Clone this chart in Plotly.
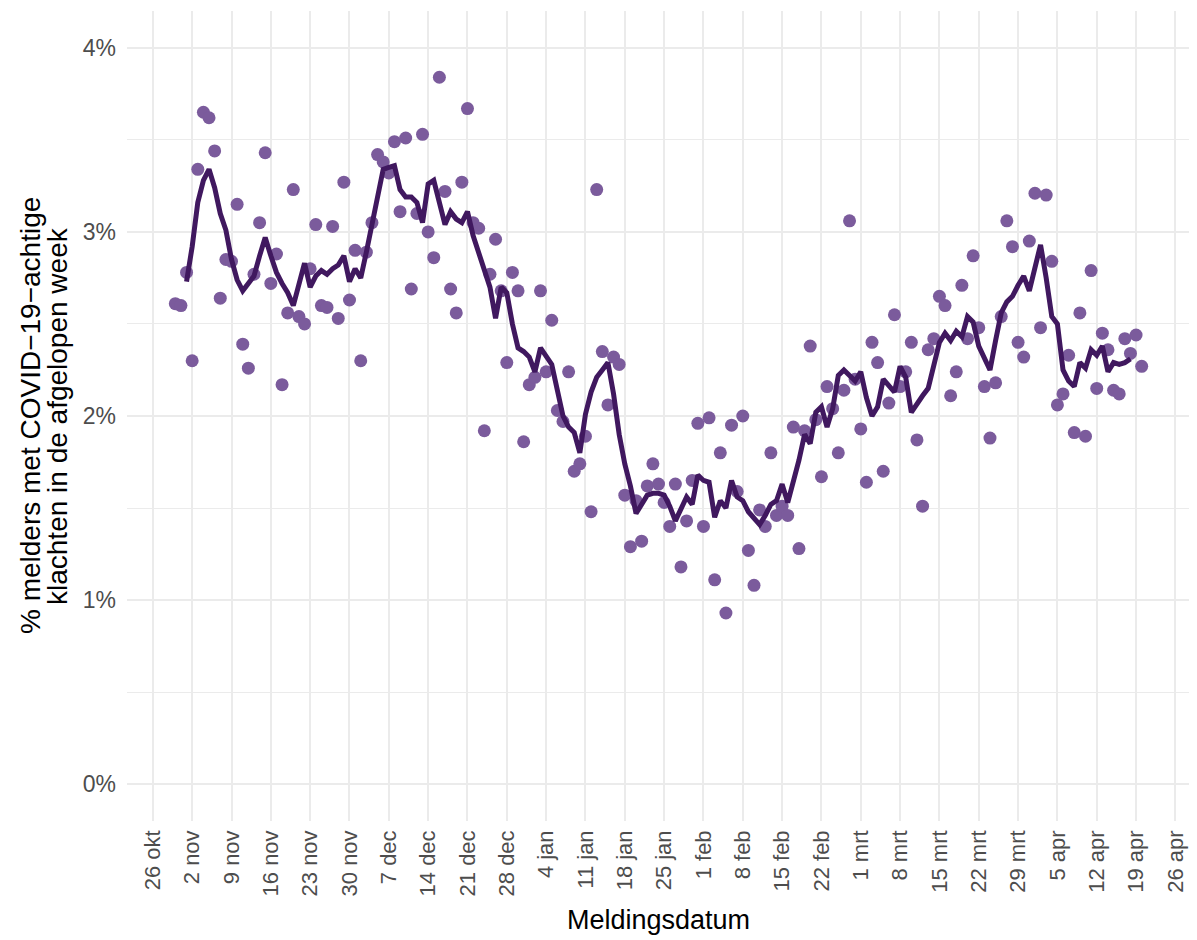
import pandas as pd
import plotly.graph_objects as go

# Daily share (%) of reporters with COVID-19-like complaints, from 30 Oct 2020
point_start = "2020-10-30"
point_values = [
    2.61, 2.60, 2.78, 2.30, 3.34, 3.65, 3.62, 3.44, 2.64, 2.85,
    2.84, 3.15, 2.39, 2.26, 2.77, 3.05, 3.43, 2.72, 2.88, 2.17,
    2.56, 3.23, 2.54, 2.50, 2.80, 3.04, 2.60, 2.59, 3.03, 2.53,
    3.27, 2.63, 2.90, 2.30, 2.89, 3.05, 3.42, 3.38, 3.32, 3.49,
    3.11, 3.51, 2.69, 3.10, 3.53, 3.00, 2.86, 3.84, 3.22, 2.69,
    2.56, 3.27, 3.67, 3.05, 3.02, 1.92, 2.77, 2.96, 2.68, 2.29,
    2.78, 2.68, 1.86, 2.17, 2.21, 2.68, 2.24, 2.52, 2.03, 1.97,
    2.24, 1.70, 1.74, 1.89, 1.48, 3.23, 2.35, 2.06, 2.32, 2.28,
    1.57, 1.29, 1.54, 1.32, 1.62, 1.74, 1.63, 1.53, 1.40, 1.63,
    1.18, 1.43, 1.65, 1.96, 1.40, 1.99, 1.11, 1.80, 0.93, 1.95,
    1.59, 2.00, 1.27, 1.08, 1.49, 1.40, 1.80, 1.46, 1.51, 1.46,
    1.94, 1.28, 1.92, 2.38, 1.98, 1.67, 2.16, 2.04, 1.80, 2.14,
    3.06, 2.20, 1.93, 1.64, 2.40, 2.29, 1.70, 2.07, 2.55, 2.16,
    2.24, 2.40, 1.87, 1.51, 2.36, 2.42, 2.65, 2.60, 2.11, 2.24,
    2.71, 2.42, 2.87, 2.48, 2.16, 1.88, 2.18, 2.54, 3.06, 2.92,
    2.40, 2.32, 2.95, 3.21, 2.48, 3.20, 2.84, 2.06, 2.12, 2.33,
    1.91, 2.56, 1.89, 2.79, 2.15, 2.45, 2.36, 2.14, 2.12, 2.42,
    2.34, 2.44, 2.27,
]

# Smoothed line (%), from 1 Nov 2020
line_start = "2020-11-01"
line_values = [
    2.73, 2.92, 3.16, 3.28, 3.34, 3.24, 3.10, 3.01, 2.85, 2.74,
    2.68, 2.72, 2.76, 2.87, 2.97, 2.87, 2.78, 2.72, 2.67, 2.60,
    2.72, 2.83, 2.70, 2.76, 2.79, 2.77, 2.80, 2.82, 2.87, 2.73,
    2.80, 2.75, 2.89, 3.03, 3.19, 3.34, 3.35, 3.36, 3.23, 3.19,
    3.19, 3.16, 3.05, 3.26, 3.28, 3.16, 3.04, 3.11, 3.07, 3.05,
    3.11, 2.98, 2.88, 2.80, 2.70, 2.53, 2.70, 2.67, 2.50, 2.37,
    2.35, 2.32, 2.24, 2.37, 2.33, 2.28, 2.14, 2.00, 1.94, 1.91,
    1.80, 2.01, 2.13, 2.21, 2.25, 2.29, 2.12, 1.90, 1.74, 1.62,
    1.47, 1.52, 1.57, 1.58, 1.58, 1.57, 1.51, 1.43, 1.50, 1.56,
    1.52, 1.68, 1.65, 1.64, 1.45, 1.54, 1.50, 1.65, 1.56, 1.54,
    1.48, 1.44, 1.41, 1.46, 1.52, 1.54, 1.63, 1.53, 1.64, 1.76,
    1.90, 1.85, 2.02, 2.05, 1.94, 2.04, 2.22, 2.25, 2.22, 2.19,
    2.24, 2.10, 2.00, 2.05, 2.20, 2.16, 2.13, 2.27, 2.21, 2.02,
    2.07, 2.11, 2.15, 2.28, 2.40, 2.45, 2.41, 2.46, 2.43, 2.54,
    2.51, 2.38, 2.31, 2.25, 2.41, 2.56, 2.62, 2.65, 2.71, 2.76,
    2.68, 2.81, 2.93, 2.75, 2.54, 2.50, 2.25, 2.19, 2.16, 2.29,
    2.26, 2.36, 2.33, 2.38, 2.24, 2.29, 2.28, 2.29, 2.31,
]

tick_dates = pd.date_range("2020-10-26", "2021-04-26", freq="7D")
tick_labels = [
    "26 okt", "2 nov", "9 nov", "16 nov", "23 nov", "30 nov", "7 dec",
    "14 dec", "21 dec", "28 dec", "4 jan", "11 jan", "18 jan", "25 jan",
    "1 feb", "8 feb", "15 feb", "22 feb", "1 mrt", "8 mrt", "15 mrt",
    "22 mrt", "29 mrt", "5 apr", "12 apr", "19 apr", "26 apr",
]
y_ticks = [0, 1, 2, 3, 4]
y_labels = ["0%", "1%", "2%", "3%", "4%"]
x_title = "Meldingsdatum"
y_title_lines = ["% melders met COVID\u221219\u2212achtige", "klachten in de afgelopen week"]

point_dates = pd.date_range(point_start, periods=len(point_values), freq="D")
line_dates = pd.date_range(line_start, periods=len(line_values), freq="D")

# page body has an 8px margin, so the figure is drawn 8px in from the corner
OFF = 8
W, H = 1197 - OFF, 940 - OFF
ML, MT = 127 - OFF, 11 - OFF
PANEL_R, PANEL_B = 1190 - OFF, 821 - OFF
MR, MB = W - PANEL_R, H - PANEL_B
PW, PH = PANEL_R - ML, PANEL_B - MT

fig = go.Figure()
fig.add_trace(go.Scatter(
    x=point_dates, y=point_values, mode="markers",
    marker=dict(size=13, color="#7b5b9c", line=dict(width=0)),
    showlegend=False, hoverinfo="skip",
))
fig.add_trace(go.Scatter(
    x=line_dates, y=line_values, mode="lines",
    line=dict(color="#40185f", width=5),
    showlegend=False, hoverinfo="skip",
))

font_family = "Liberation Sans, Arial, sans-serif"
grid = "#ebebeb"

annotations = [
    dict(text=x_title, xref="paper", yref="paper",
         x=0.5, y=-((920 - OFF) - PANEL_B) / PH,
         xanchor="center", yanchor="middle", showarrow=False,
         font=dict(size=27, color="black", family=font_family)),
]
for px, txt in zip([30, 57], y_title_lines):
    annotations.append(dict(
        text=txt, xref="paper", yref="paper",
        x=((px - OFF) - ML) / PW, y=0.5, xanchor="center", yanchor="middle",
        textangle=-90, showarrow=False,
        font=dict(size=28, color="black", family=font_family)))

fig.update_layout(
    width=W, height=H,
    margin=dict(l=ML, r=MR, t=MT, b=MB),
    paper_bgcolor="white", plot_bgcolor="white",
    font=dict(family=font_family, color="#4d4d4d"),
    annotations=annotations,
    xaxis=dict(
        range=["2020-10-21 09:36", "2021-04-28 14:24"],
        tickmode="array", tickvals=list(tick_dates), ticktext=tick_labels,
        tickangle=-90, tickfont=dict(size=22, color="#4d4d4d"),
        showgrid=True, gridcolor=grid, gridwidth=1.5,
        zeroline=False, showline=False, ticks="",
        ticklabelstandoff=4, automargin=False,
    ),
    yaxis=dict(
        range=[-0.2, 4.2],
        tickmode="array", tickvals=y_ticks, ticktext=y_labels,
        tickfont=dict(size=23, color="#4d4d4d"),
        showgrid=True, gridcolor=grid, gridwidth=1.5,
        minor=dict(tickmode="array", tickvals=[0.5, 1.5, 2.5, 3.5], showgrid=True, gridcolor=grid, gridwidth=1.2),
        zeroline=False, showline=False, ticks="",
        ticklabelstandoff=10, automargin=False,
    ),
)

fig.write_html("out.html")
